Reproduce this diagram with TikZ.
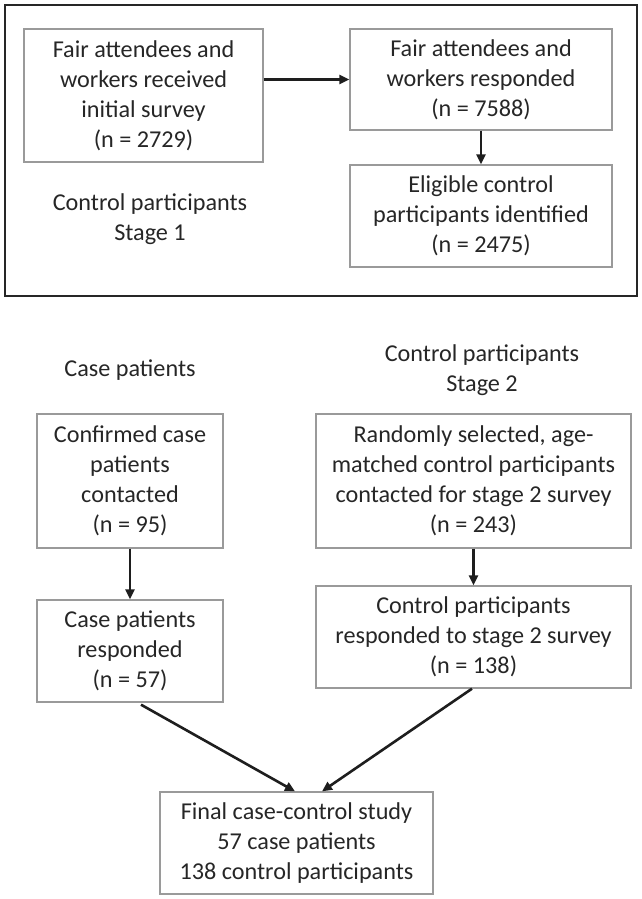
\documentclass[tikz,border=0pt]{standalone}
\usepackage{fontspec}
\setmainfont{Carlito}
\usetikzlibrary{arrows.meta,calc}
\definecolor{txt}{HTML}{262626}
\definecolor{boxline}{HTML}{9A9A9A}
\definecolor{arr}{HTML}{1E1E1E}
\tikzset{
  box/.style={draw=boxline, line width=1.3pt, align=center, inner sep=0pt,
    text=txt, font=\fontsize{24.2}{30}\selectfont},
  lbl/.style={align=center, inner sep=0pt, text=txt, font=\fontsize{24.2}{30}\selectfont},
  conn/.style={draw=arr, line width=2.6pt, -{Triangle[length=10pt,width=9pt]}}
}
\begin{document}
\begin{tikzpicture}[x=1pt,y=1pt]
\useasboundingbox (0,0) rectangle (642,-899);
\draw[draw=txt, line width=1.4pt] (5,-5) rectangle (637,-296);
\node[box, minimum width=239pt, minimum height=133pt] (A) at (143.5,-95.5)
  {Fair attendees and\\workers received\\initial survey\\(n = 2729)};
\node[box, minimum width=262pt, minimum height=101pt] (B) at (481,-79.5)
  {Fair attendees and\\workers responded\\(n = 7588)};
\node[box, minimum width=262pt, minimum height=102pt] (C) at (481,-216)
  {Eligible control\\participants identified\\(n = 2475)};
\node[lbl] (S1) at (150,-219) {Control participants\\Stage 1};
\node[lbl] (CP) at (130,-370) {Case patients};
\node[lbl] (S2) at (482,-370) {Control participants\\Stage 2};
\node[box, minimum width=186pt, minimum height=134pt] (D) at (130,-481)
  {Confirmed case\\patients\\contacted\\(n = 95)};
\node[box, minimum width=186pt, minimum height=102pt] (E) at (130,-651)
  {Case patients\\responded\\(n = 57)};
\node[box, minimum width=315pt, minimum height=134pt] (F) at (473.5,-481)
  {Randomly selected, age-\\matched control participants\\contacted for stage 2 survey\\(n = 243)};
\node[box, minimum width=315pt, minimum height=102pt] (G) at (473.5,-637)
  {Control participants\\responded to stage 2 survey\\(n = 138)};
\node[box, minimum width=273pt, minimum height=102pt] (H) at (296.5,-843)
  {Final case-control study\\57 case patients\\138 control participants};
\draw[conn] (A.east |- B.west) -- (B.west);
\draw[conn] (B.south) -- (C.north);
\draw[conn] (D.south) -- (E.north);
\draw[conn] (F.south) -- (G.north);
\draw[conn] ($(E.south)+(11,-2)$) -- ($(H.north)+(-1.5,0)$);
\draw[conn] ($(G.south)+(-1.5,0)$) -- ($(H.north)+(25.5,0)$);
\end{tikzpicture}
\end{document}
